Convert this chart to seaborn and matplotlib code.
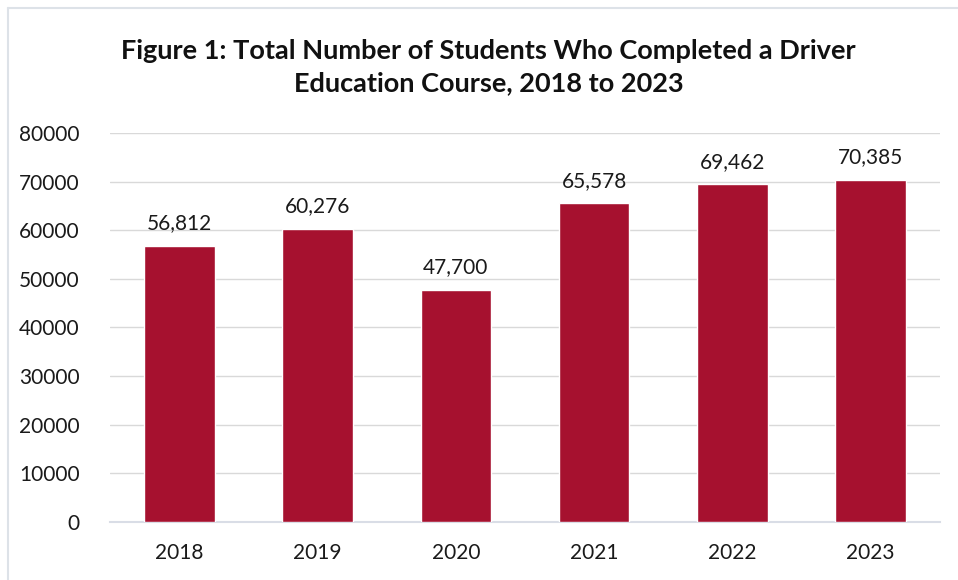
import matplotlib
matplotlib.use("Agg")
import matplotlib.pyplot as plt
import seaborn as sns
import pandas as pd
from matplotlib.lines import Line2D

years = ["2018", "2019", "2020", "2021", "2022", "2023"]
students = [56812, 60276, 47700, 65578, 69462, 70385]
yticks = [0, 10000, 20000, 30000, 40000, 50000, 60000, 70000, 80000]
title = "Figure 1: Total Number of Students Who Completed a Driver\nEducation Course, 2018 to 2023"

sns.set_theme(style="white")
plt.rcParams['font.family'] = ['Lato', 'DejaVu Sans']

df = pd.DataFrame({"year": years, "students": students})

fig = plt.figure(figsize=(9.58, 5.8), dpi=100)
ax = fig.add_axes([0.115, 0.10, 0.866, 0.6707])

sns.barplot(data=df, x="year", y="students", color="#A6112F", saturation=1,
            width=0.51, ax=ax, zorder=3)

ax.set_ylim(0, 80000)
ax.set_yticks(yticks)
ax.set_yticklabels([str(v) for v in yticks], fontsize=15, color="#1a1a1a")
ax.tick_params(axis='x', labelsize=15, colors="#1a1a1a", length=0, pad=15)
ax.tick_params(axis='y', length=0, pad=22)
ax.yaxis.grid(True, color="#d9d9d9", linewidth=1, zorder=0)
ax.set_axisbelow(True)
for s in ["top", "right", "left"]:
    ax.spines[s].set_visible(False)
ax.spines["bottom"].set_color("#d9dde6")
ax.spines["bottom"].set_linewidth(1.5)
ax.set_xlabel("")
ax.set_ylabel("")

for p, v in zip(ax.patches, students):
    ax.annotate(f"{v:,}", (p.get_x() + p.get_width() / 2, p.get_height()),
                xytext=(0, 9), textcoords="offset points", ha="center", va="bottom",
                fontsize=15, color="#1a1a1a")

fig.text(0.51, 0.884, title, ha="center", va="center", fontsize=19.5,
         fontweight="bold", color="#111111", linespacing=1.4)

# figure frame (top and left edges)
fig.add_artist(Line2D([8/958, 1.0], [1 - 8/580, 1 - 8/580], color="#dde2e8", linewidth=1.5,
                      transform=fig.transFigure))
fig.add_artist(Line2D([8/958, 8/958], [0, 1 - 8/580], color="#dde2e8", linewidth=1.5,
                      transform=fig.transFigure))

fig.savefig("out.png", dpi=100)
